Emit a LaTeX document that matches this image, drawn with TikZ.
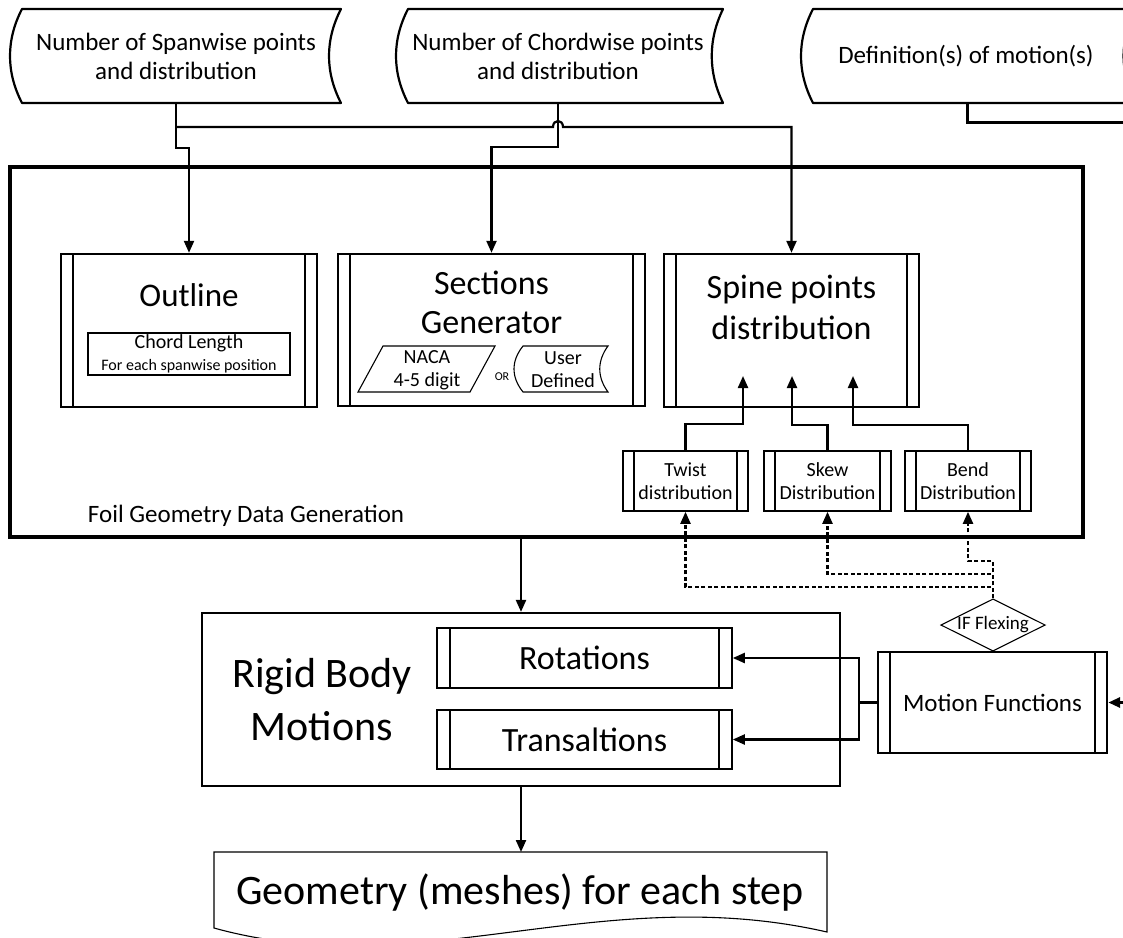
\documentclass[tikz,border=0pt]{standalone}
\usepackage{fontspec}
\setmainfont{Carlito}
\usetikzlibrary{arrows.meta,shapes.geometric}
\begin{document}
\begin{tikzpicture}[x=1pt,y=-1pt,
  arr/.style={-{Triangle[length=12pt,width=10pt]}, line width=2.2pt},
  dsh/.style={-{Triangle[length=12pt,width=10pt]}, line width=2.2pt, dash pattern=on 4pt off 2.5pt},
  wire/.style={line width=2.2pt},
  store/.style={line width=2.2pt, line join=round},
  pp/.style 2 args={draw, line width=#1, inner sep=0pt, align=center,
    path picture={\draw[line width=#1]
      ([xshift=#2]path picture bounding box.north west) -- ([xshift=#2]path picture bounding box.south west)
      ([xshift=-#2]path picture bounding box.north east) -- ([xshift=-#2]path picture bounding box.south east);}},
  txtA/.style={align=center, inner sep=0pt, font=\fontsize{25}{29}\selectfont},
  txtB/.style={align=center, inner sep=0pt, font=\fontsize{33}{40}\selectfont},
  txtC/.style={align=center, inner sep=0pt, font=\fontsize{20}{23}\selectfont},
  txtD/.style={align=center, inner sep=0pt, font=\fontsize{42}{53}\selectfont},
]
\useasboundingbox (0,0) rectangle (1123,937);
\clip (0,0) rectangle (1123,937);

% ---- input stored-data shapes
\draw[store] (22,9) -- (341,9) .. controls (325,40) and (325,72) .. (341,103) -- (22,103) .. controls (6,72) and (6,40) .. cycle;
\node[txtA] (span) at (176,56) {Number of Spanwise points\\and distribution};
\draw[store] (408,9) -- (723,9) .. controls (708,40) and (708,72) .. (723,103) -- (408,103) .. controls (392,72) and (392,40) .. cycle;
\node[txtA] (chordw) at (558,56) {Number of Chordwise points\\and distribution};
\draw[store] (813,9) -- (1137,9) .. controls (1119,40) and (1119,72) .. (1137,103) -- (813,103) .. controls (797,72) and (797,40) .. cycle;
\node[txtA] (defs) at (966,56) {Definition(s) of motion(s)};
\coordinate (spanOut) at (176,103);
\coordinate (chordOut) at (558,103);
\coordinate (defOut) at (967,103);

% ---- foil geometry box
\node[draw, line width=3.4pt, minimum width=1073pt, minimum height=370pt, inner sep=0pt] (foil) at (546.5,352) {};
\node[txtA] (foiltxt) at (246,516) {Foil Geometry Data Generation};

% Outline
\node[pp={2.4pt}{12pt}, minimum width=256pt, minimum height=153pt] (outline) at (189,330.5) {};
\node[txtB] (outlinetxt) at (189,295) {Outline};
\node[draw, line width=1.1pt, minimum width=202pt, minimum height=42pt, inner sep=0pt] (chord) at (189,354) {};
\node[inner sep=0pt, font=\fontsize{20}{23}\selectfont] (chordtxt) at (189,343) {Chord Length};
\node[inner sep=0pt, font=\fontsize{16}{19}\selectfont] (chordtxt2) at (189,366) {For each spanwise position};

% Sections generator
\node[pp={2.4pt}{12pt}, minimum width=307pt, minimum height=152pt] (sections) at (491.5,330) {};
\node[txtB, font=\fontsize{34}{39}\selectfont] (sectxt) at (491.5,302) {Sections\\Generator};
\draw[line width=1.1pt] (383,346) -- (495,346) -- (470,392) -- (358,392) -- cycle;
\node[txtC] (naca) at (427,370) {NACA\\4-5 digit};
\node[inner sep=0pt, font=\fontsize{12}{14}\selectfont] (or) at (502,377) {OR};
\draw[line width=1.1pt] (523,346) -- (608,346) .. controls (597,361) and (597,377) .. (608,392) -- (523,392) .. controls (511,377) and (511,361) .. cycle;
\node[txtC] (user) at (563,370) {User\\Defined};

% Spine points
\node[pp={2.4pt}{12pt}, minimum width=255pt, minimum height=153pt] (spine) at (791.5,330.5) {};
\node[txtB, font=\fontsize{34}{41}\selectfont] (spinetxt) at (791.5,307.5) {Spine points\\distribution};
\coordinate (twIn) at (743,376);
\coordinate (skIn) at (792,376);
\coordinate (beIn) at (853,376);

\node[pp={1.6pt}{11pt}, minimum width=125pt, minimum height=60pt, txtC] (twist) at (685.5,481) {Twist\\distribution};
\node[pp={1.6pt}{11pt}, minimum width=127pt, minimum height=60pt, txtC] (skew) at (827.5,481) {Skew\\Distribution};
\node[pp={1.6pt}{11pt}, minimum width=126pt, minimum height=60pt, txtC] (bend) at (968,481) {Bend\\Distribution};

% IF flexing
\node[draw, diamond, aspect=2, line width=1.1pt, minimum width=100pt, minimum height=52pt, inner sep=-4pt, txtC, font=\fontsize{19}{23}\selectfont] (flex) at (993,625) {IF Flexing};

% Motion functions
\node[pp={2.4pt}{12pt}, minimum width=229pt, minimum height=101pt, txtA] (motion) at (992.5,702.5) {Motion Functions};

% Rigid body motions
\node[draw, line width=2.2pt, minimum width=638pt, minimum height=173pt, inner sep=0pt] (rigid) at (521,699.5) {};
\node[txtD] (rigidtxt) at (322,700) {Rigid Body\\Motions};
\node[pp={1.6pt}{13pt}, minimum width=295pt, minimum height=60pt, font=\fontsize{34}{40}\selectfont] (rot) at (584.5,658) {Rotations};
\node[pp={1.6pt}{13pt}, minimum width=295pt, minimum height=59pt, font=\fontsize{34}{40}\selectfont] (trans) at (584.5,739.5) {Transaltions};
\coordinate (mj) at (859,702.5);

% Geometry document
\draw[line width=1.1pt] (214,852) -- (827,852) -- (827,932) .. controls (600,880) and (420,985) .. (214,928) -- cycle;
\node[txtD] (geom) at (520,893) {Geometry (meshes) for each step};
\coordinate (geomTop) at (521,852);

% ---- connectors
\draw[arr] (spanOut) -- (176,148) -| (outline.north);
\draw[arr] (176,127) -- (553,127) .. controls (553,119) and (563,119) .. (563,127) -| (spine.north);
\draw[arr] (chordOut) -- (558,147) -| (sections.north);
\draw[arr, line width=3pt] (defOut) -- (967,122) -- (1140,122) |- (motion.east);

\draw[arr] (twist.north) -- ++(0,-26) -| (twIn);
\draw[arr] (skew.north) -- ++(0,-25) -| (skIn);
\draw[arr] (bend.north) -- ++(0,-25) -| (beIn);

\draw[dsh] (flex.north) -- ++(0,-11) -| (twist.south);
\draw[dsh] (flex.north) -- ++(0,-24) -| (skew.south);
\draw[dsh] (flex.north) -- ++(0,-37) -| (bend.south);

\draw[arr] (rigid.north |- foil.south) -- (rigid.north);
\draw[wire] (motion.west) -- (mj);
\draw[arr] (mj) |- (rot.east);
\draw[arr] (mj) |- (trans.east);
\draw[arr] (rigid.south) -- (geomTop);
\end{tikzpicture}
\end{document}
